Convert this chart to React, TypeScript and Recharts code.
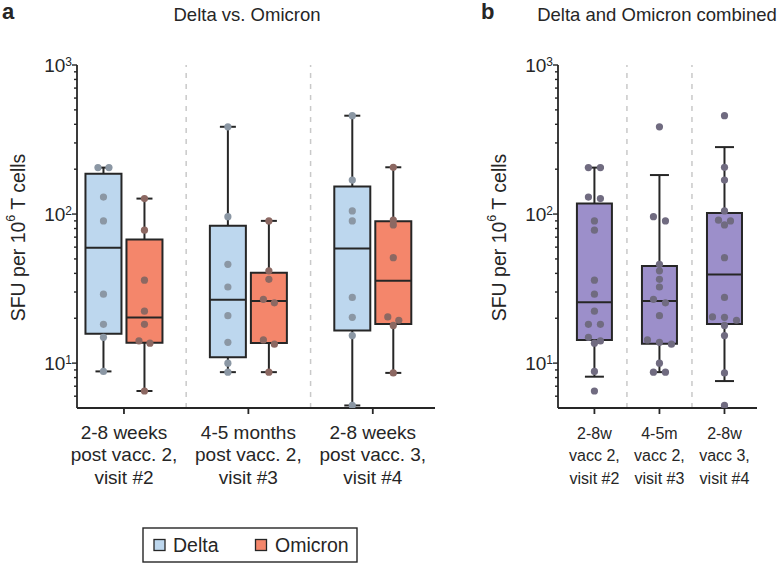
import React from 'react';
import {
  ComposedChart,
  XAxis,
  YAxis,
  Scatter,
  ReferenceArea,
  ReferenceLine,
} from 'recharts';

const FONT = '"Liberation Sans", Arial, Helvetica, sans-serif';
const INK = '#262626';

// x tick labels, one line per entry
const VISITS_A = [
  ['2-8 weeks', 'post vacc. 2,', 'visit #2'],
  ['4-5 months', 'post vacc. 2,', 'visit #3'],
  ['2-8 weeks', 'post vacc. 3,', 'visit #4'],
];
const VISITS_B = [
  ['2-8w', 'vacc 2,', 'visit #2'],
  ['4-5m', 'vacc 2,', 'visit #3'],
  ['2-8w', 'vacc 3,', 'visit #4'],
];

// SFU per 10^6 T cells, one list per visit
const DELTA = [
  [205, 205, 130, 90, 29, 18.2, 14.9, 8.8],
  [385, 96, 46, 32.4, 20.8, 13.8, 10, 8.7],
  [457, 169, 105, 90, 27.6, 20.3, 15.3, 5.2],
];
const OMICRON = [
  [127, 78, 36, 22.3, 18.2, 14.1, 13.6, 6.5],
  [90, 41.6, 36.5, 26.8, 25.4, 14.3, 13.4, 8.7],
  [206, 91, 84.5, 51, 20.4, 19.4, 17.9, 8.6],
];
// panel b pools both variants per visit
const COMBINED = DELTA.map((d, i) => [...d, ...OMICRON[i]]);

const Y_MIN = 5;
const Y_MAX = 1000;
const Y_TICKS = [6, 7, 8, 9, 10, 20, 30, 40, 50, 60, 70, 80, 90, 100, 200, 300, 400, 500, 600, 700, 800, 900, 1000];

const H = 566;
const PLOT_TOP = 65;
const PLOT_H = 343;
const X_AXIS_H = 30;
const DECADE_PX = PLOT_H / Math.log10(Y_MAX / Y_MIN);

// percentile the way Prism does it: position p*(n+1)
function pct(sorted: number[], p: number) {
  const pos = p * (sorted.length + 1);
  if (pos <= 1) return sorted[0];
  if (pos >= sorted.length) return sorted[sorted.length - 1];
  const lo = Math.floor(pos);
  return sorted[lo - 1] + (pos - lo) * (sorted[lo] - sorted[lo - 1]);
}

function stats(values: number[], whiskerP: number | null) {
  const s = [...values].sort((a, b) => a - b);
  return {
    lo: whiskerP == null ? s[0] : pct(s, whiskerP),
    q1: pct(s, 0.25),
    med: pct(s, 0.5),
    q3: pct(s, 0.75),
    hi: whiskerP == null ? s[s.length - 1] : pct(s, 1 - whiskerP),
  };
}

// simple swarm: points closer than ROW_PX vertically share a row, spread symmetrically
function swarm(values: number[], center: number, step: number) {
  const ROW_PX = 4.5;
  const sorted = [...values].sort((a, b) => b - a);
  const rows: number[][] = [];
  sorted.forEach((v) => {
    const row = rows[rows.length - 1];
    if (row && DECADE_PX * Math.log10(row[0] / v) < ROW_PX) row.push(v);
    else rows.push([v]);
  });
  const out: { x: number; y: number }[] = [];
  rows.forEach((row) =>
    row.forEach((v, i) => out.push({ x: center + (i - (row.length - 1) / 2) * step, y: v }))
  );
  return out;
}

function LogTick({ x, y, payload }: any) {
  const exp = Math.log10(payload.value);
  const major = Math.abs(exp - Math.round(exp)) < 1e-6;
  return (
    <g>
      <line x1={x - (major ? 5 : 3)} x2={x} y1={y} y2={y} stroke={INK} strokeWidth={1.4} />
      {major && (
        <text x={x - 5} y={y + 7} textAnchor="end" fontSize={19} fill={INK} fontFamily={FONT}>
          10
          <tspan dy={-6} fontSize={12}>
            {Math.round(exp)}
          </tspan>
        </text>
      )}
    </g>
  );
}

function makeXTick(labels: string[][], fontSize: number) {
  return ({ x, y, payload }: any) => {
    const lines = labels[Math.round(payload.value) - 1] || [];
    return (
      <text x={x} y={y} textAnchor="middle" fontSize={fontSize} fill={INK} fontFamily={FONT}>
        {lines.map((l, i) => (
          <tspan key={i} x={x} y={y + 22.5 + i * 22.5}>
            {l}
          </tspan>
        ))}
      </text>
    );
  };
}

function YLabel({ viewBox, offsetX }: any) {
  const cx = viewBox.x + offsetX;
  const cy = viewBox.y + viewBox.height / 2 + 1;
  return (
    <text
      transform={`translate(${cx},${cy}) rotate(-90)`}
      textAnchor="middle"
      dominantBaseline="central"
      fontSize={19.5}
      fill={INK}
      fontFamily={FONT}
    >
      SFU per 10<tspan dy={-7} fontSize={12.5}>6</tspan>
      <tspan dy={7}> T cells</tspan>
    </text>
  );
}

function boxElements(key: string, c: number, half: number, cap: number, s: any, fill: string) {
  const line = { stroke: INK, strokeWidth: 2, ifOverflow: 'visible' as const };
  return [
    <ReferenceLine key={key + 'wu'} segment={[{ x: c, y: s.q3 }, { x: c, y: s.hi }]} {...line} />,
    <ReferenceLine key={key + 'wl'} segment={[{ x: c, y: s.lo }, { x: c, y: s.q1 }]} {...line} />,
    <ReferenceLine key={key + 'cu'} segment={[{ x: c - cap, y: s.hi }, { x: c + cap, y: s.hi }]} {...line} />,
    <ReferenceLine key={key + 'cl'} segment={[{ x: c - cap, y: s.lo }, { x: c + cap, y: s.lo }]} {...line} />,
    <ReferenceArea
      key={key + 'box'}
      x1={c - half}
      x2={c + half}
      y1={s.q1}
      y2={s.q3}
      fill={fill}
      fillOpacity={1}
      stroke={INK}
      strokeWidth={2}
      ifOverflow="visible"
    />,
    <ReferenceLine key={key + 'med'} segment={[{ x: c - half, y: s.med }, { x: c + half, y: s.med }]} {...line} />,
  ];
}

const dot = (color: string) => (p: any) => <circle cx={p.cx} cy={p.cy} r={3.6} fill={color} />;

// panel a geometry (data units on the numeric category axis)
const A_DOMAIN: [number, number] = [0.6225, 3.5];
const A_W = 358;
const A_UNIT = A_W / (A_DOMAIN[1] - A_DOMAIN[0]);
const A_SHIFT = 20.5 / A_UNIT;
const A_HALF = 18 / A_UNIT;
const A_CAP = 8 / A_UNIT;
const A_STEP = 11 / A_UNIT;

const B_DOMAIN: [number, number] = [0.44, 3.5];
const B_W = 199;
const B_UNIT = B_W / (B_DOMAIN[1] - B_DOMAIN[0]);
const B_HALF = 17.5 / B_UNIT;
const B_CAP = 9.5 / B_UNIT;
const B_STEP = 12 / B_UNIT;

const deltaDots = DELTA.flatMap((v, i) => swarm(v, i + 1 - A_SHIFT, A_STEP));
const omicronDots = OMICRON.flatMap((v, i) => swarm(v, i + 1 + A_SHIFT, A_STEP));
const combinedDots = COMBINED.flatMap((v, i) => swarm(v, i + 1, B_STEP));

const axisLine = { stroke: INK, strokeWidth: 1.8 };
const bottomMargin = H - PLOT_TOP - PLOT_H - X_AXIS_H;

export default function App() {
  return (
    <div style={{ position: 'absolute', left: 0, top: 0, width: 781, height: H, background: '#fff' }}>
      <div style={{ position: 'absolute', left: 0, top: 0 }}>
        <ComposedChart
          width={450}
          height={H}
          margin={{ top: PLOT_TOP, right: 450 - 77 - A_W, bottom: bottomMargin, left: 0 }}
        >
          <XAxis
            type="number"
            dataKey="x"
            domain={A_DOMAIN}
            allowDataOverflow
            ticks={[1, 2, 3]}
            interval={0}
            height={X_AXIS_H}
            axisLine={axisLine}
            tickLine={axisLine}
            tickSize={6}
            tickMargin={2}
            tick={makeXTick(VISITS_A, 19)}
          />
          <YAxis
            type="number"
            dataKey="y"
            scale="log"
            domain={[Y_MIN, Y_MAX]}
            allowDataOverflow
            ticks={Y_TICKS}
            interval={0}
            width={77}
            axisLine={axisLine}
            tickLine={false}
            tickSize={0}
            tickMargin={0}
            tick={<LogTick />}
            label={{ content: (p: any) => <YLabel {...p} offsetX={18} /> }}
          />
          <ReferenceLine x={1.5} stroke="#c9c9c9" strokeWidth={1.5} strokeDasharray="5 6" />
          <ReferenceLine x={2.5} stroke="#c9c9c9" strokeWidth={1.5} strokeDasharray="5 6" />
          {DELTA.flatMap((v, i) => boxElements('d' + i, i + 1 - A_SHIFT, A_HALF, A_CAP, stats(v, null), '#bdd7ee'))}
          {OMICRON.flatMap((v, i) => boxElements('o' + i, i + 1 + A_SHIFT, A_HALF, A_CAP, stats(v, null), '#f4866b'))}
          <Scatter data={deltaDots} isAnimationActive={false} shape={dot('#8b97a4')} />
          <Scatter data={omicronDots} isAnimationActive={false} shape={dot('#8c6862')} />
        </ComposedChart>
      </div>
      <div style={{ position: 'absolute', left: 470, top: 0 }}>
        <ComposedChart
          width={311}
          height={H}
          margin={{ top: PLOT_TOP, right: 311 - 88 - B_W, bottom: bottomMargin, left: 0 }}
        >
          <XAxis
            type="number"
            dataKey="x"
            domain={B_DOMAIN}
            allowDataOverflow
            ticks={[1, 2, 3]}
            interval={0}
            height={X_AXIS_H}
            axisLine={axisLine}
            tickLine={axisLine}
            tickSize={6}
            tickMargin={2}
            tick={makeXTick(VISITS_B, 16)}
          />
          <YAxis
            type="number"
            dataKey="y"
            scale="log"
            domain={[Y_MIN, Y_MAX]}
            allowDataOverflow
            ticks={Y_TICKS}
            interval={0}
            width={88}
            axisLine={axisLine}
            tickLine={false}
            tickSize={0}
            tickMargin={0}
            tick={<LogTick />}
            label={{ content: (p: any) => <YLabel {...p} offsetX={29} /> }}
          />
          <ReferenceLine x={1.5} stroke="#c9c9c9" strokeWidth={1.5} strokeDasharray="5 6" />
          <ReferenceLine x={2.5} stroke="#c9c9c9" strokeWidth={1.5} strokeDasharray="5 6" />
          {COMBINED.flatMap((v, i) => boxElements('c' + i, i + 1, B_HALF, B_CAP, stats(v, 0.1), '#9c8fca'))}
          <Scatter data={combinedDots} isAnimationActive={false} shape={dot('#706b80')} />
        </ComposedChart>
      </div>
      <svg
        width={781}
        height={H}
        style={{ position: 'absolute', left: 0, top: 0, pointerEvents: 'none' }}
        fontFamily={FONT}
        fill={INK}
      >
        <text x={2} y={19} fontSize={22} fontWeight="bold">a</text>
        <text x={247} y={21} fontSize={18.5} textAnchor="middle">Delta vs. Omicron</text>
        <text x={481} y={19} fontSize={22} fontWeight="bold">b</text>
        <text x={657} y={21} fontSize={18.5} textAnchor="middle">Delta and Omicron combined</text>
        <rect x={143} y={528} width={214} height={34} fill="#fff" stroke={INK} strokeWidth={1.4} />
        <rect x={154} y={539.5} width={11} height={11} fill="#bdd7ee" stroke={INK} strokeWidth={1.3} />
        <text x={173} y={552} fontSize={19.5}>Delta</text>
        <rect x={255.5} y={539.5} width={11} height={11} fill="#f4866b" stroke={INK} strokeWidth={1.3} />
        <text x={275} y={552} fontSize={19.5}>Omicron</text>
      </svg>
    </div>
  );
}
